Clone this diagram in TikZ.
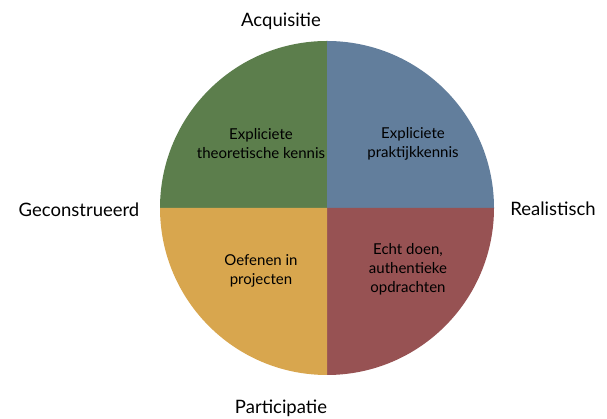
\documentclass[tikz,border=0pt]{standalone}
\usepackage{fontspec}
\setmainfont{Lato}
\definecolor{qgreen}{RGB}{92,126,76}
\definecolor{qblue}{RGB}{98,126,156}
\definecolor{qyellow}{RGB}{216,166,78}
\definecolor{qred}{RGB}{151,82,83}
\begin{document}
\begin{tikzpicture}[x=1pt,y=1pt,
  axislabel/.style={font=\fontsize{18.5}{21}\selectfont, text=black, inner sep=0pt},
  quadlabel/.style={font=\fontsize{15}{19}\selectfont, align=center, text=black, inner sep=0pt}]
\useasboundingbox (0,0) rectangle (607,419);
\coordinate (c) at (327,211);
\def\R{167}
\fill[qgreen] (c) -- ++(-\R,0) arc[start angle=180,end angle=90,radius=\R] -- cycle;
\fill[qblue] (c) -- ++(0,\R) arc[start angle=90,end angle=0,radius=\R] -- cycle;
\fill[qred] (c) -- ++(\R,0) arc[start angle=0,end angle=-90,radius=\R] -- cycle;
\fill[qyellow] (c) -- ++(0,-\R) arc[start angle=-90,end angle=-180,radius=\R] -- cycle;
\node[axislabel] (acq) at (281,398) {Acquisitie};
\node[axislabel] (par) at (281,11) {Participatie};
\node[axislabel] (geo) at (79,209) {Geconstrueerd};
\node[axislabel] (rea) at (553,210) {Realistisch};
\node[quadlabel] (q1) at (261,275) {Expliciete\\theoretische kennis};
\node[quadlabel] (q2) at (413,275) {Expliciete\\praktijkkennis};
\node[quadlabel] (q3) at (261,148) {Oefenen in\\projecten};
\node[quadlabel] (q4) at (408,150) {Echt doen,\\authentieke\\opdrachten};
\end{tikzpicture}
\end{document}
